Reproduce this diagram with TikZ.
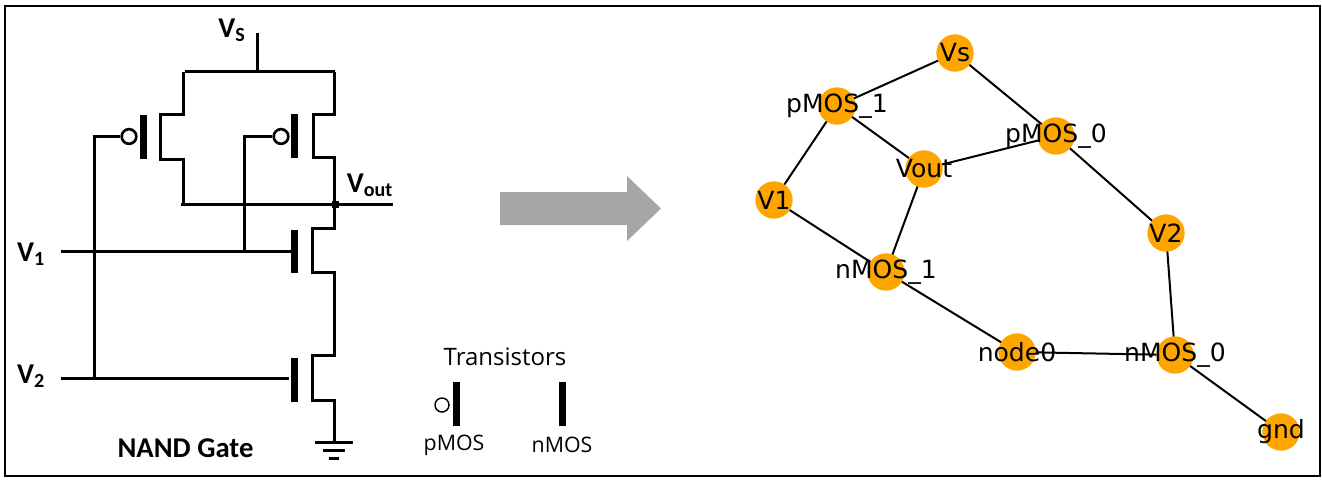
\documentclass[tikz,border=0pt]{standalone}
\usepackage{fontspec}
\setmainfont{Carlito}
\newfontfamily\plotfont{DejaVu Sans}
\newfontfamily\legendfont{Open Sans}
\usetikzlibrary{backgrounds}

\definecolor{plotorange}{HTML}{FFA500}
\definecolor{arrowgray}{HTML}{A6A6A6}

\tikzset{
  wire/.style={line width=2.25pt},
  gatebar/.style={fill=black, minimum width=5.4pt, minimum height=32.5pt, inner sep=0pt},
  bubble/.style={circle, draw, line width=2pt, fill=white, minimum size=11pt, inner sep=0pt},
  pinlabel/.style={font=\bfseries\fontsize{21.5}{21.5}\selectfont, inner sep=0pt},
  legendlabel/.style={font=\legendfont\fontsize{16}{16}\selectfont, inner sep=0pt},
  gnode/.style={circle, fill=plotorange, minimum size=28pt, inner sep=0pt},
  gtext/.style={font=\plotfont\fontsize{18.8}{18.8}\selectfont, inner sep=0pt},
  gedge/.style={line width=1.5pt}
}

\begin{document}
\begin{tikzpicture}[x=0.75pt, y=-0.75pt]
\useasboundingbox (0,0) rectangle (1322,483);

\draw[line width=1.5pt] (5,6) rectangle (1320,476);

% NAND gate
\node[gatebar] (barpone) at (143.5,137) {};
\node[gatebar] (barptwo) at (294.5,136) {};
\node[gatebar] (barnone) at (294.5,251.5) {};
\node[gatebar] (barntwo) at (294.5,380) {};
\node[bubble] (bubone) at (129,136.5) {};
\node[bubble] (bubtwo) at (281,136.5) {};

\draw[wire] (257.5,33) -- (257.5,71.5);
\draw[wire] (185,71.5) -- (334.5,71.5);
\draw[wire] (183.5,71.5) -- (183.5,114.5) -- (160.5,114.5) -- (160.5,159.5) -- (183.5,159.5) -- (183.5,204.5);
\draw[wire] (181,204.5) -- (393,204.5);
\draw[wire] (334.5,71.5) -- (334.5,114.5) -- (313.5,114.5) -- (313.5,157.5) -- (334.5,157.5) -- (334.5,228.5)
  -- (312.5,228.5) -- (312.5,272.5) -- (334.5,272.5) -- (334.5,355.5) -- (312.5,355.5) -- (312.5,400.5)
  -- (334.5,400.5) -- (334.5,442.5);
\draw[wire] (94.5,378.5) |- (bubone.west);
\draw[wire] (244.5,251.5) |- (bubtwo.west);
\draw[wire] (61,251.5) -- (barnone.west);
\draw[wire] (61,378.5) -- (289,378.5);
\fill (331.5,200.5) rectangle (338.5,207.5);

\draw[wire] (315,442.5) -- (353,442.5);
\draw[wire] (323,450.5) -- (345,450.5);
\draw[wire] (329,458.5) -- (339,458.5);

\node[pinlabel] (vs) at (232,30) {V\textsubscript{S}};
\node[pinlabel] (vout) at (370,185) {V\textsubscript{out}};
\node[pinlabel] (vone) at (31,254) {V\textsubscript{1}};
\node[pinlabel] (vtwo) at (31,376) {V\textsubscript{2}};
\node[pinlabel] (gatename) at (185.5,448) {NAND Gate};

% arrow
\fill[arrowgray] (500,192) -- (627,192) -- (627,176) -- (661,208.5) -- (627,241) -- (627,225) -- (500,225) -- cycle;

% legend
\node[legendlabel, font=\legendfont\fontsize{18}{18}\selectfont] (legendtitle) at (505,357) {Transistors};
\node[gatebar] (legendp) at (456.5,404) {};
\node[gatebar] (legendn) at (562.5,404) {};
\node[circle, draw, line width=1.1pt, minimum size=10.5pt, inner sep=0pt] (legendbub) at (442,405) {};
\node[legendlabel] (ptext) at (454,445) {pMOS};
\node[legendlabel] (ntext) at (562,445) {nMOS};

% graph
\node[gnode, label={[gtext]center:Vs}] (Vs) at (955,53) {};
\node[gnode, label={[gtext]center:pMOS\_1}] (pMOSone) at (837,106) {};
\node[gnode, label={[gtext]center:pMOS\_0}] (pMOSzero) at (1056,136) {};
\node[gnode, label={[gtext]center:Vout}] (Voutnode) at (924,169) {};
\node[gnode, label={[gtext]center:V1}] (Vonenode) at (774,200) {};
\node[gnode, label={[gtext]center:V2}] (Vtwonode) at (1166,233) {};
\node[gnode, label={[gtext]center:nMOS\_1}] (nMOSone) at (886,272) {};
\node[gnode, label={[gtext]center:node0}] (nodezero) at (1017,352) {};
\node[gnode, label={[gtext]center:nMOS\_0}] (nMOSzero) at (1175,355) {};
\node[gnode, label={[gtext]center:gnd}] (gnd) at (1281,432) {};

\begin{scope}[on background layer]
\draw[gedge] (Vs.center) -- (pMOSone.center);
\draw[gedge] (Vs.center) -- (pMOSzero.center);
\draw[gedge] (pMOSone.center) -- (Voutnode.center);
\draw[gedge] (pMOSone.center) -- (Vonenode.center);
\draw[gedge] (pMOSzero.center) -- (Voutnode.center);
\draw[gedge] (pMOSzero.center) -- (Vtwonode.center);
\draw[gedge] (Voutnode.center) -- (nMOSone.center);
\draw[gedge] (Vonenode.center) -- (nMOSone.center);
\draw[gedge] (nMOSone.center) -- (nodezero.center);
\draw[gedge] (nodezero.center) -- (nMOSzero.center);
\draw[gedge] (Vtwonode.center) -- (nMOSzero.center);
\draw[gedge] (nMOSzero.center) -- (gnd.center);
\end{scope}

\end{tikzpicture}
\end{document}
